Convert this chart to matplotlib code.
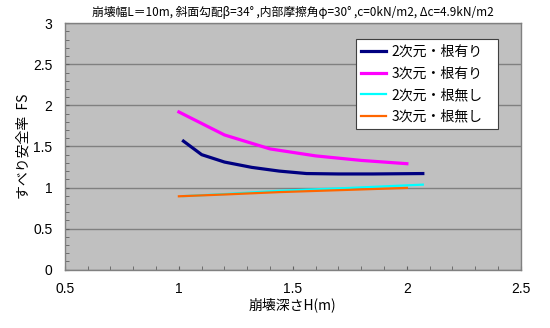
import matplotlib
matplotlib.use("Agg")
import matplotlib.pyplot as plt
from matplotlib.ticker import MultipleLocator

plt.rcParams['font.family'] = ['Noto Sans CJK JP', 'DejaVu Sans']

# data
h_2d_root = [1.02, 1.10, 1.20, 1.32, 1.44, 1.56, 1.70, 1.85, 2.07]
fs_2d_root = [1.565, 1.40, 1.31, 1.245, 1.20, 1.17, 1.165, 1.165, 1.17]

h_3d_root = [1.00, 1.20, 1.40, 1.60, 1.80, 2.00]
fs_3d_root = [1.92, 1.64, 1.47, 1.385, 1.33, 1.29]

h_2d_noroot = [1.02, 1.20, 1.44, 1.75, 2.07]
fs_2d_noroot = [0.895, 0.92, 0.96, 0.995, 1.035]

h_3d_noroot = [1.00, 1.20, 1.44, 1.75, 2.00]
fs_3d_noroot = [0.893, 0.915, 0.944, 0.972, 0.995]

labels = ['2次元・根有り', '3次元・根有り', '2次元・根無し', '3次元・根無し']
colors = ['#000080', '#FF00FF', '#00FFFF', '#FF6600']

title = '崩壊幅L＝10m, 斜面勾配β=34° ,内部摩擦角φ=30° ,c=0kN/m2, Δc=4.9kN/m2'
xlabel = '崩壊深さH(m)'
ylabel = 'すべり安全率  FS'

fig = plt.figure(figsize=(5.5, 3.28), dpi=100)
ax = fig.add_axes([0.118, 0.178, 0.829, 0.751])
ax.set_facecolor('#C0C0C0')

ax.plot(h_2d_root, fs_2d_root, color=colors[0], lw=2.3, label=labels[0])
ax.plot(h_3d_root, fs_3d_root, color=colors[1], lw=2.3, label=labels[1])
ax.plot(h_2d_noroot, fs_2d_noroot, color=colors[2], lw=1.6, label=labels[2])
ax.plot(h_3d_noroot, fs_3d_noroot, color=colors[3], lw=1.6, label=labels[3])

ax.set_xlim(0.5, 2.5)
ax.set_ylim(0, 3)
ax.xaxis.set_minor_locator(MultipleLocator(0.1))
ax.yaxis.set_minor_locator(MultipleLocator(0.1))
ax.set_xticks([0.5, 1, 1.5, 2, 2.5])
ax.set_xticklabels(['0.5', '1', '1.5', '2', '2.5'], family='Liberation Sans')
ax.set_yticks([0, 0.5, 1, 1.5, 2, 2.5, 3])
ax.set_yticklabels(['0', '0.5', '1', '1.5', '2', '2.5', '3'], family='Liberation Sans')
ax.tick_params(which='both', direction='in', length=3, color='#606060', labelsize=10)
ax.tick_params(which='both', top=False, right=False)
ax.tick_params(axis='x', pad=9)
ax.tick_params(axis='y', pad=9)

ax.grid(which='major', axis='y', color='#808080', lw=1)
ax.set_axisbelow(True)
for s in ax.spines.values():
    s.set_color('#808080')
    s.set_linewidth(1)

ax.set_xlabel(xlabel, fontsize=10, labelpad=1)
ax.set_ylabel(ylabel, fontsize=10, labelpad=2)
ax.set_title(title, fontsize=8.5, pad=5)

leg = ax.legend(loc='upper left', bbox_to_anchor=(0.638, 0.935, 0.312, 0.0), mode='expand',
                fontsize=10, frameon=True, fancybox=False, framealpha=1,
                edgecolor='#404040', handlelength=1.8, handletextpad=0.4,
                labelspacing=0.55, borderpad=0.4, borderaxespad=0)
leg.get_frame().set_linewidth(0.8)

fig.savefig('out.png', dpi=100)
